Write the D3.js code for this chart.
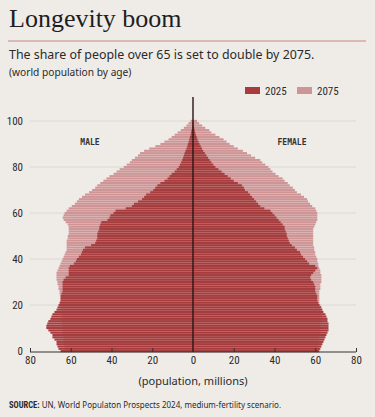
<!DOCTYPE html>
<html lang="en">
<head>
<meta charset="UTF-8">
<title>Longevity boom</title>
<style>
  body { margin: 0; padding: 0; background: #efece8; }
  svg { display: block; }
  .title { font-family: "Liberation Serif", "DejaVu Serif", serif; font-size: 26px; fill: #1e1e1e; }
  .sub { font-family: "Noto Sans", "Open Sans", sans-serif; font-size: 12.4px; fill: #2a2a2a; }
  .note { font-family: "Noto Sans", "Open Sans", sans-serif; font-size: 10.2px; fill: #2a2a2a; }
  .cond { font-family: "Liberation Sans Narrow", "Roboto Condensed", Roboto, sans-serif; fill: #2a2a2a; }
  .sex { font-family: "DejaVu Sans Mono", monospace; font-size: 8px; font-weight: bold; fill: #333; }
</style>
</head>
<body>
<div id="chart"></div>
<script src="https://cdn.jsdelivr.net/npm/d3@7"></script>
<script>
// ages 0..100, population in millions
const ages = d3.range(0, 101);

const male2025 = [
  65, 66, 66.5, 67, 67, 68, 69, 69, 70, 71,
  72, 72, 71.5, 71, 70, 69.5, 69, 68, 67, 66.5,
  66, 65.5, 65, 65, 65, 64.5, 64, 64, 64, 64,
  64, 63.5, 62.5, 61, 61, 61, 61, 60.5, 58.5, 57.5,
  57, 56, 55, 54.5, 54, 53, 50, 48, 47.5, 47,
  47, 47, 46.5, 46, 46, 45.5, 45, 42, 41, 40.5,
  39, 38, 33, 30, 29, 27, 25, 24, 23, 21,
  19.5, 18.5, 17.5, 16, 14, 12.5, 11.5, 10.5, 9, 8,
  7, 6.4, 5.8, 5.3, 4.9, 4.5, 4.1, 3.7, 3.2, 2.8,
  2.5, 2.1, 1.8, 1.5, 1.2, 1, 0.7, 0.5, 0.4, 0.3,
  0.2
];
const male2075 = [
  63, 63, 63, 63.5, 63.5, 63.5, 63.5, 64, 64, 64,
  64, 64, 64.5, 64.5, 64.5, 64.5, 64.5, 65, 65, 65,
  65, 65, 65, 65, 65, 65.5, 65.5, 66, 66, 66.5,
  66.5, 67, 67, 67, 67, 66.5, 66, 65.5, 65, 64.5,
  64, 63.5, 63, 62.5, 62, 62, 62, 62, 62, 61.5,
  61.5, 61, 61, 61, 61, 61.5, 62.5, 63.5, 64, 63.5,
  63, 62, 61, 59.5, 58, 57, 56, 54.5, 53, 51,
  49.5, 48, 47, 45.5, 44, 42.5, 41, 39, 37.5, 36,
  34, 32.5, 31, 30, 28.5, 27, 26, 24, 21.5, 18.5,
  16, 14, 12, 10.5, 9, 7.5, 6, 4.5, 3.2, 2.2,
  1.2
];
const female2025 = [
  62, 62.5, 63, 63.5, 64, 64.5, 65, 65.5, 66, 66.5,
  66.5, 66.5, 66.5, 66, 66, 65.5, 65, 64, 63.5, 63,
  62, 61.5, 61, 61, 61, 60.5, 60, 60, 60, 59.5,
  59, 58, 57.5, 58, 59, 60, 61, 60, 57, 56,
  55, 54, 53, 52.5, 51, 50, 48.5, 47.5, 47, 46.5,
  46, 46, 45.5, 45, 45, 44, 43, 42, 41, 40,
  39, 38, 35, 33, 32, 31, 30, 29, 28, 27,
  25.5, 25, 24, 22, 20, 18.5, 17, 15.5, 14, 12.5,
  11, 10, 9, 8.2, 7.4, 6.6, 5.8, 5, 4.4, 3.8,
  3.2, 2.7, 2.2, 1.8, 1.4, 1.1, 0.8, 0.6, 0.4, 0.3,
  0.2
];
const female2075 = [
  61.5, 61.5, 61.5, 62, 62, 62, 62, 62, 62.5, 62.5,
  62.5, 62.5, 62.5, 63, 63, 63, 63, 63, 62.5, 62.5,
  62.5, 62, 62, 62, 62, 62, 62, 62.5, 62.5, 62.5,
  63, 63, 63, 63, 62.5, 62.5, 62, 61.5, 61.5, 61,
  61, 60.5, 60, 60, 59.5, 59.5, 59, 59, 59, 59,
  59, 59, 59, 59, 59.5, 60, 60.5, 61, 61, 61,
  61, 60.5, 60, 58.5, 57.5, 56.5, 56, 54.5, 53, 51,
  50, 49, 47.5, 46.5, 45, 44, 42, 40.5, 39, 38,
  37, 35.5, 34, 33, 30.5, 28.5, 26.5, 24.5, 22, 20,
  18, 16.5, 15, 13, 11, 9, 8, 6, 4.5, 3,
  2
];

const xTicks = [80, 60, 40, 20, 0, 20, 40, 60, 80];
const yTicks = [0, 20, 40, 60, 80, 100];
const years = ['2025', '2075'];

const W = 375, H = 417;
const cx = 193, half = 163;
const dark = '#a63c3d', light = '#cf9596';

const svg = d3.select('#chart').append('svg').attr('width', W).attr('height', H);

// titles
svg.append('text').attr('class', 'title').attr('x', 9).attr('y', 27).text('Longevity boom');
svg.append('line').attr('x1', 8).attr('x2', 366).attr('y1', 41).attr('y2', 41)
  .attr('stroke', '#c98587').attr('stroke-width', 1);
svg.append('text').attr('class', 'sub').attr('x', 9).attr('y', 59)
  .text('The share of people over 65 is set to double by 2075.');
svg.append('text').attr('class', 'note').attr('x', 9).attr('y', 76).text('(world population by age)');

// scales
const xL = d3.scaleLinear().domain([0, 80]).range([cx, cx - half]);
const xR = d3.scaleLinear().domain([0, 80]).range([cx, cx + half]);
const yLin = d3.scaleLinear().domain([0, 100]).range([351, 121]);
const yBand = d3.scaleBand().domain(ages).range([yLin(0) + 1.15, yLin(100) - 1.15]).paddingInner(0.08);

// gridlines
svg.append('g').selectAll('line').data(yTicks.slice(1)).join('line')
  .attr('x1', 30).attr('x2', 356)
  .attr('y1', d => yLin(d)).attr('y2', d => yLin(d))
  .attr('stroke', '#dcd8d3').attr('stroke-width', 1);

function drawSide(vals, scale, color, left) {
  svg.append('g').selectAll('rect').data(vals).join('rect')
    .attr('x', d => left ? scale(d) : cx)
    .attr('width', d => Math.abs(scale(d) - cx))
    .attr('y', (d, i) => yBand(ages[i]))
    .attr('height', yBand.bandwidth())
    .attr('fill', color);
}
drawSide(male2075, xL, light, true);
drawSide(female2075, xR, light, false);
drawSide(male2025, xL, dark, true);
drawSide(female2025, xR, dark, false);

// centre line
svg.append('line').attr('x1', cx).attr('x2', cx).attr('y1', 97).attr('y2', 352)
  .attr('stroke', '#2b1515').attr('stroke-width', 1.4);

// y labels
svg.append('g').selectAll('text').data(yTicks).join('text')
  .attr('class', 'cond').style('font-size', '11px')
  .attr('x', 23).attr('y', d => yLin(d) + 4).attr('text-anchor', 'end')
  .text(d => d);

// x axis
const xAxis = d3.scaleLinear().domain([-80, 80]).range([cx - half, cx + half]);
const ax = svg.append('g').attr('transform', 'translate(0,352)')
  .call(d3.axisBottom(xAxis).tickValues(d3.range(-80, 81, 20)).tickSize(-4).tickPadding(5)
    .tickFormat((d, i) => xTicks[i]));
ax.select('.domain').attr('stroke', '#333').attr('d', `M${cx - half},0H${cx + half}`);
ax.selectAll('.tick line').attr('stroke', '#333').attr('y1', 0).attr('y2', -4);
ax.selectAll('.tick text').attr('class', 'cond').style('font-size', '11px').attr('dy', '0.6em').attr('fill', '#2a2a2a');

svg.append('text').attr('class', 'note').style('font-size', '11px').attr('x', cx).attr('y', 385)
  .attr('text-anchor', 'middle').text('(population, millions)');

// sex labels
svg.append('text').attr('class', 'sex').attr('x', 90).attr('y', 145).attr('text-anchor', 'middle').text('MALE');
svg.append('text').attr('class', 'sex').attr('x', 292).attr('y', 145).attr('text-anchor', 'middle').text('FEMALE');

// legend
const leg = svg.append('g').selectAll('g').data(years).join('g')
  .attr('transform', (d, i) => `translate(${245 + i * 52},87)`);
leg.append('rect').attr('width', 15).attr('height', 7).attr('fill', (d, i) => i ? light : dark);
leg.append('text').attr('class', 'cond').style('font-size', '11px').attr('x', 20).attr('y', 8).text(d => d);

// source
const src = svg.append('text').attr('class', 'note').style('font-size', '8px').attr('x', 9).attr('y', 408);
src.append('tspan').attr('class', 'cond').style('font-size', '8.5px').attr('font-weight', 'bold').text('SOURCE:');
src.append('tspan').text(' UN, World Populaton Prospects 2024, medium-fertility scenario.');
</script>
</body>
</html>
